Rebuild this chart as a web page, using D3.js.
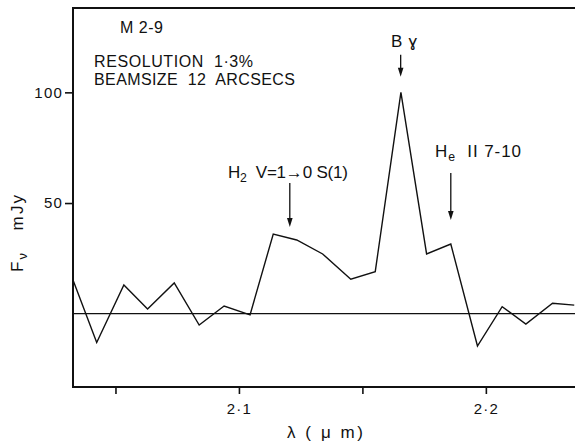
<!DOCTYPE html>
<html>
<head>
<meta charset="utf-8">
<script src="https://cdn.jsdelivr.net/npm/d3@7"></script>
<style>
html,body{margin:0;padding:0;background:#fff;}
svg{display:block;}
text{font-family:"Liberation Sans",Arial,sans-serif;fill:#111;white-space:pre;}
</style>
</head>
<body>
<svg id="chart" width="575" height="444"></svg>
<script>
// ---- data ----
const wavelength = [2.0328, 2.0424, 2.0534, 2.0630, 2.0738, 2.0839, 2.0940, 2.1045, 2.1139, 2.1234,
                    2.1339, 2.1453, 2.1552, 2.1656, 2.1760, 2.1858, 2.1966, 2.2066, 2.2162, 2.2270, 2.2358];
const flux = [15.2, -13.0, 13.0, 2.1, 13.9, -5.1, 3.5, -0.5, 36.0, 33.3,
              27.0, 15.6, 19.0, 100.0, 27.0, 31.5, -14.6, 3.2, -4.7, 4.7, 3.9];
const xTicks = [2.05, 2.1, 2.15, 2.2];
const xTickLabels = ["", "2·1", "", "2·2"];
const yTicks = [50, 100];
const yTickLabels = ["50", "100"];
const lineNames = ["H2", "Bgamma", "HeII"];
const lineWavelengths = [2.1206, 2.1655, 2.1858];
const lineArrowTips = [39.2, 107.0, 42.3];

// ---- chart ----
const svg = d3.select("#chart");
const mL = 73, mR = 575, mT = 8, mB = 387;
const x = d3.scaleLinear().domain([2.0328, 2.2361]).range([mL, mR]);
const y = d3.scaleLinear().domain([-33.1, 138.1]).range([mB, mT]);

// frame: top, left, bottom
svg.append("path")
  .attr("d", `M${mR},${mT}H${mL}V${mB}H${mR}`)
  .attr("fill", "none").attr("stroke", "#111").attr("stroke-width", 2);

// x axis ticks
const xAxis = d3.axisBottom(x).tickValues(xTicks)
  .tickFormat((d, i) => xTickLabels[i]).tickSize(7).tickPadding(9);
const gx = svg.append("g").attr("transform", `translate(0,${mB})`).call(xAxis);
gx.select(".domain").remove();
gx.selectAll(".tick line").attr("stroke", "#111").attr("stroke-width", 1.6);
gx.selectAll(".tick text").attr("font-size", 15).attr("letter-spacing", 1.2)
  .attr("font-family", "Liberation Sans, Arial, sans-serif").attr("fill", "#111");

// y axis ticks
const yAxis = d3.axisLeft(y).tickValues(yTicks)
  .tickFormat((d, i) => yTickLabels[i]).tickSize(8).tickPadding(2);
const gy = svg.append("g").attr("transform", `translate(${mL},0)`).call(yAxis);
gy.select(".domain").remove();
gy.selectAll(".tick line").attr("stroke", "#111").attr("stroke-width", 1.6);
gy.selectAll(".tick text").attr("font-size", 15).attr("letter-spacing", 1.2)
  .attr("font-family", "Liberation Sans, Arial, sans-serif").attr("fill", "#111");

// zero baseline
svg.append("line")
  .attr("x1", mL).attr("x2", mR)
  .attr("y1", y(0)).attr("y2", y(0))
  .attr("stroke", "#111").attr("stroke-width", 1.2);

// spectrum
const pts = wavelength.map((w, i) => [w, flux[i]]);
svg.append("path")
  .datum(pts)
  .attr("d", d3.line().x(d => x(d[0])).y(d => y(d[1])))
  .attr("fill", "none").attr("stroke", "#111").attr("stroke-width", 1.4)
  .attr("stroke-linejoin", "miter");

// arrows
const arrowLen = [44, 22, 47];
lineNames.forEach((n, i) => {
  const ax = x(lineWavelengths[i]);
  const tip = y(lineArrowTips[i]);
  svg.append("line").attr("x1", ax).attr("x2", ax)
    .attr("y1", tip - arrowLen[i]).attr("y2", tip - 4)
    .attr("stroke", "#111").attr("stroke-width", 1.3);
  svg.append("path")
    .attr("d", `M${ax - 2.8},${tip - 9}L${ax + 2.8},${tip - 9}L${ax},${tip}Z`)
    .attr("fill", "#111");
});

// annotation labels
function label(xp, yp, parts, size, len) {
  const t = svg.append("text").attr("x", xp).attr("y", yp).attr("font-size", size);
  parts.forEach(p => {
    const s = t.append("tspan").text(p.t);
    if (p.sub) s.attr("font-size", size * 0.72).attr("dy", 4);
    if (p.up) s.attr("dy", -4);
  });
  if (len) t.attr("textLength", len).attr("lengthAdjust", "spacing");
  return t;
}
label(120, 33, [{t: "M 2-9"}], 16, 43);
label(94, 67, [{t: "RESOLUTION  1·3%"}], 16, 159);
label(94, 85, [{t: "BEAMSIZE  12  ARCSECS"}], 16, 201);

label(228, 178, [{t: "H"}, {t: "2", sub: true}, {t: "  V=1→0 S(1)", up: true}], 17, 120);
label(391, 47, [{t: "B ɣ"}], 17, 26);
label(435, 157, [{t: "H"}, {t: "e", sub: true}, {t: "  II 7-10", up: true}], 17, 86);

// axis titles
label(287, 438, [{t: "λ ( μ m)"}], 17, 76);
const yt = svg.append("text")
  .attr("transform", "translate(23,272) rotate(-90)")
  .attr("font-size", 17);
yt.append("tspan").text("F");
yt.append("tspan").text("ν").attr("font-size", 13).attr("dy", 4);
yt.append("tspan").text("   mJy").attr("dy", -4);
yt.attr("textLength", 77).attr("lengthAdjust", "spacing");
</script>
</body>
</html>
